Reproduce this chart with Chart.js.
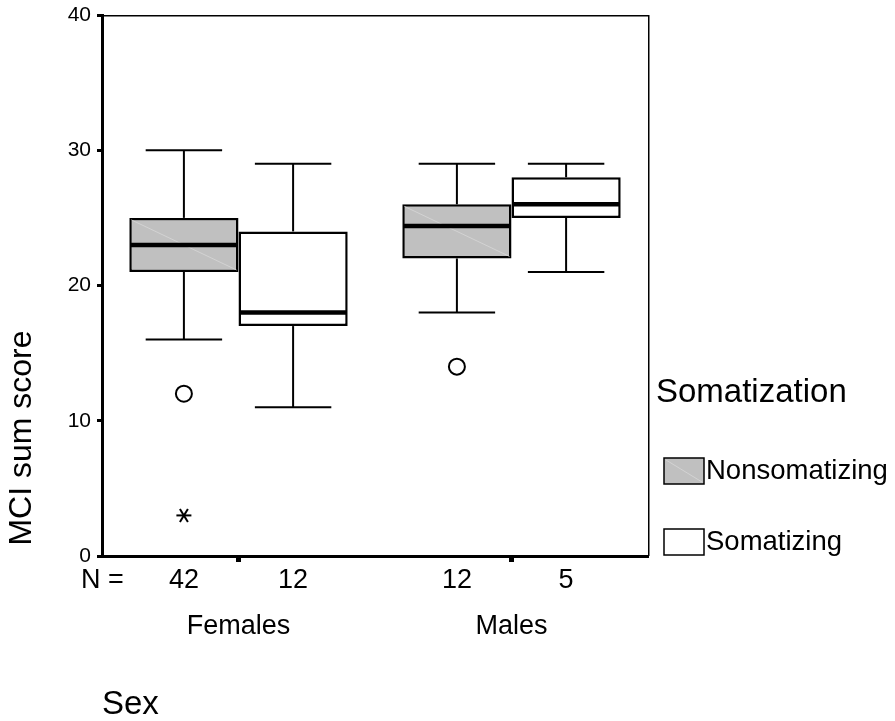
<!DOCTYPE html>
<html><head><meta charset="utf-8">
<script src="https://cdn.jsdelivr.net/npm/chart.js@4/dist/chart.umd.min.js"></script>
<style>html,body{margin:0;padding:0;background:#fff;}#wrap{width:895px;height:721px;position:relative}</style>
</head><body><div id="wrap"><canvas id="c" width="895" height="721"></canvas></div>
<script>
const categories = ['Females', 'Males'];
const groups = ['Nonsomatizing', 'Somatizing'];
const legendTitle = 'Somatization';
const yTitle = 'MCI sum score';
const xTitle = 'Sex';
const yTicks = [0, 10, 20, 30, 40];

const nonsomMin = [16, 18];
const nonsomQ1 = [21, 22];
const nonsomMedian = [23, 24.4];
const nonsomQ3 = [25, 26];
const nonsomMax = [30, 29];
const nonsomOutliers = [[12], [14]];
const nonsomExtremes = [[3], []];
const nonsomN = [42, 12];

const somMin = [11, 21];
const somQ1 = [17, 25];
const somMedian = [18, 26];
const somQ3 = [24, 28];
const somMax = [29, 29];
const somOutliers = [[], []];
const somExtremes = [[], []];
const somN = [12, 5];

const FONT = "'Liberation Sans', Arial, sans-serif";

const stats = [
  {min: nonsomMin, q1: nonsomQ1, med: nonsomMedian, q3: nonsomQ3, max: nonsomMax, out: nonsomOutliers, ext: nonsomExtremes, n: nonsomN},
  {min: somMin, q1: somQ1, med: somMedian, q3: somQ3, max: somMax, out: somOutliers, ext: somExtremes, n: somN}
];
const fills = ['#c0c0c0', '#ffffff'];

function line(ctx, x1, y1, x2, y2) { ctx.beginPath(); ctx.moveTo(x1, y1); ctx.lineTo(x2, y2); ctx.stroke(); }

const boxPlugin = {
  id: 'boxDetails',
  afterDatasetsDraw(chart) {
    const ctx = chart.ctx, ys = chart.scales.y, ca = chart.chartArea;
    ctx.save();
    ctx.strokeStyle = '#000';
    ctx.fillStyle = '#000';
    chart.data.datasets.forEach((ds, di) => {
      const st = stats[di];
      const meta = chart.getDatasetMeta(di);
      meta.data.forEach((bar, i) => {
        const x = bar.x, w = bar.width, l = x - w / 2, r = x + w / 2;
        const yq1 = ys.getPixelForValue(st.q1[i]), yq3 = ys.getPixelForValue(st.q3[i]);
        const ymin = ys.getPixelForValue(st.min[i]), ymax = ys.getPixelForValue(st.max[i]);
        const ymed = ys.getPixelForValue(st.med[i]);
        if (di === 0) {
          ctx.save(); ctx.strokeStyle = 'rgba(215,215,215,0.8)'; ctx.lineWidth = 1;
          line(ctx, l + 2, yq3 + 2, r - 2, yq1 - 2); ctx.restore();
        }
        ctx.lineWidth = 2;
        line(ctx, x, yq3, x, ymax);
        line(ctx, x, yq1, x, ymin);
        const cw = w * 0.35;
        line(ctx, x - cw, ymax, x + cw, ymax);
        line(ctx, x - cw, ymin, x + cw, ymin);
        ctx.lineWidth = 4.5;
        line(ctx, l + 1, ymed, r - 1, ymed);
        ctx.lineWidth = 2;
        st.out[i].forEach(v => {
          const py = ys.getPixelForValue(v);
          ctx.beginPath(); ctx.arc(x, py, 8, 0, Math.PI * 2); ctx.stroke();
        });
        st.ext[i].forEach(v => {
          const py = ys.getPixelForValue(v);
          line(ctx, x - 7.5, py, x + 7.5, py);
          line(ctx, x - 4, py - 6.5, x + 4, py + 6.5);
          line(ctx, x - 4, py + 6.5, x + 4, py - 6.5);
        });
        ctx.font = '27px ' + FONT;
        ctx.textAlign = 'center'; ctx.textBaseline = 'middle';
        ctx.fillText(String(st.n[i]), x, 581);
      });
    });
    ctx.font = '27px ' + FONT;
    ctx.textAlign = 'left'; ctx.textBaseline = 'middle';
    ctx.fillText('N =', 81, 581);
    ctx.lineWidth = 1.5;
    line(ctx, ca.left, ca.top + 0.75, ca.right + 0.75, ca.top + 0.75);
    line(ctx, ca.right + 0.75, ca.top, ca.right + 0.75, ca.bottom);
    ctx.save();
    ctx.translate(22, 438); ctx.rotate(-Math.PI / 2);
    ctx.font = '32px ' + FONT; ctx.textAlign = 'center'; ctx.textBaseline = 'middle';
    ctx.fillText(yTitle, 0, 0);
    ctx.restore();
    ctx.font = '33px ' + FONT; ctx.textAlign = 'left'; ctx.textBaseline = 'middle';
    ctx.fillText(legendTitle, 656, 393);
    const ly = [458, 529];
    groups.forEach((g, k) => {
      ctx.fillStyle = fills[k];
      ctx.fillRect(664, ly[k], 40, 26);
      if (k === 0) { ctx.save(); ctx.strokeStyle = 'rgba(215,215,215,0.8)'; ctx.lineWidth = 1; line(ctx, 666, ly[k] + 2, 702, ly[k] + 24); ctx.restore(); }
      ctx.strokeStyle = '#000'; ctx.lineWidth = 1.5;
      ctx.strokeRect(664, ly[k], 40, 26);
      ctx.fillStyle = '#000';
      ctx.font = '27.5px ' + FONT;
      ctx.fillText(g, 706, ly[k] + 13);
    });
    ctx.restore();
  }
};

new Chart(document.getElementById('c'), {
  type: 'bar',
  data: {
    labels: categories,
    datasets: groups.map((g, k) => ({
      label: g,
      data: categories.map((c, i) => [stats[k].q1[i], stats[k].q3[i]]),
      backgroundColor: fills[k],
      borderColor: '#000',
      borderWidth: 2.5,
      borderSkipped: false,
      categoryPercentage: 0.8,
      barPercentage: 1.0
    }))
  },
  options: {
    responsive: false,
    animation: false,
    devicePixelRatio: 1,
    layout: {padding: {left: 0, top: 15, right: 247, bottom: 0}},
    plugins: {legend: {display: false}, tooltip: {enabled: false}},
    scales: {
      y: {
        min: 0, max: 40,
        afterFit(s) { s.width = 102; s.paddingTop = 0; s.paddingBottom = 0; },
        afterBuildTicks(s) { s.ticks = yTicks.map(v => ({value: v})); },
        ticks: {color: '#000', font: {family: FONT, size: 21}, padding: 6},
        grid: {drawOnChartArea: false, drawTicks: true, tickLength: 5, tickWidth: 3, tickColor: '#000'},
        border: {display: true, color: '#000', width: 3}
      },
      x: {
        afterFit(s) { s.height = 165; s.paddingLeft = 0; s.paddingRight = 0; },
        ticks: {color: '#000', font: {family: FONT, size: 27}, padding: 48},
        grid: {offset: false, drawOnChartArea: false, drawTicks: true, tickLength: 6, tickWidth: 5, tickColor: '#000'},
        border: {display: true, color: '#000', width: 3},
        title: {display: true, text: xTitle, align: 'start', color: '#000', font: {family: FONT, size: 33, lineHeight: 1}, padding: {top: 0, bottom: 0}}
      }
    }
  },
  plugins: [boxPlugin]
});
</script>
</body></html>
